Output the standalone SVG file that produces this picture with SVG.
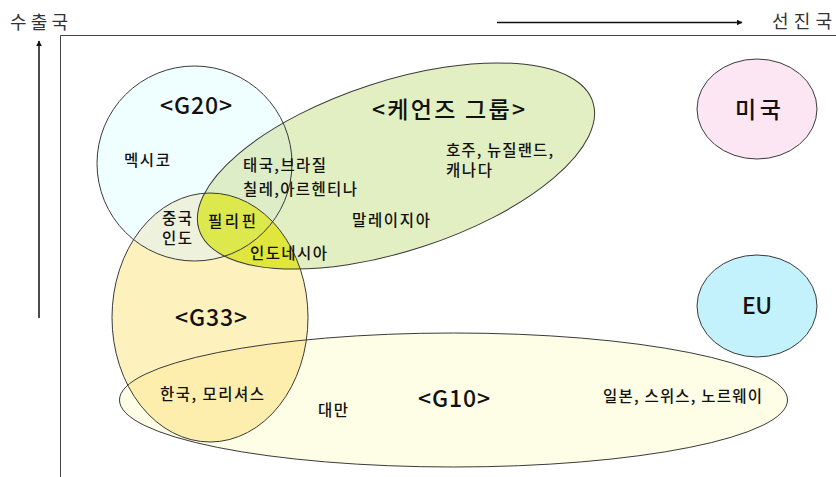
<svg xmlns="http://www.w3.org/2000/svg" xmlns:xlink="http://www.w3.org/1999/xlink" width="836" height="477" viewBox="0 0 836 477">
<style>
.t{font-family:"Noto Sans CJK KR","Liberation Sans",sans-serif;fill:#111;}
.s{font-size:15.5px;font-weight:500;}
.h{font-size:23px;font-weight:500;}
.ax{font-size:18px;fill:#333;}
.o{fill:none;stroke:#3a3a3a;stroke-width:1;}
.axis{stroke:#111;stroke-width:1.5;fill:none;}
.frame{stroke:#444;stroke-width:1;fill:none;}
</style>
<defs>
<marker id="arr" viewBox="0 0 10 10" refX="9" refY="5" markerWidth="6" markerHeight="6" orient="auto" markerUnits="userSpaceOnUse">
<path d="M0,0 L10,5 L0,10 z" fill="#111"/>
</marker>
<ellipse id="e-g20" cx="194.5" cy="163.5" rx="97.5" ry="97.5"/>
<ellipse id="e-cairns" cx="396" cy="166" rx="207" ry="85" transform="rotate(-18 396 166)"/>
<ellipse id="e-g33" cx="210" cy="317.5" rx="98" ry="124.5"/>
<ellipse id="e-g10" cx="453.5" cy="400" rx="334" ry="67"/>
<clipPath id="c-g20"><use xlink:href="#e-g20"/></clipPath>
<clipPath id="c-cairns"><use xlink:href="#e-cairns"/></clipPath>
<clipPath id="c-g33"><use xlink:href="#e-g33"/></clipPath>
</defs>
<rect width="836" height="477" fill="#fff"/>
<g id="frame">
<path class="frame" d="M60.5,477 V35.5 H836"/>
</g>
<g id="fills">
<use xlink:href="#e-g10" fill="#fefee6"/>
<use xlink:href="#e-g33" fill="#fdf1bd"/>
<use xlink:href="#e-g20" fill="#effeff"/>
<use xlink:href="#e-cairns" fill="#e2efc2"/>
</g>
<g id="overlaps">
<g clip-path="url(#c-g20)"><use xlink:href="#e-cairns" fill="#dcedc8"/></g>
<g clip-path="url(#c-g20)"><use xlink:href="#e-g33" fill="#eef2dc"/></g>
<g clip-path="url(#c-cairns)"><use xlink:href="#e-g33" fill="#e1e63c"/></g>
<g clip-path="url(#c-g20)"><g clip-path="url(#c-cairns)"><use xlink:href="#e-g33" fill="#dce84c"/></g></g>
<g clip-path="url(#c-g33)"><use xlink:href="#e-g10" fill="#fdeeae"/></g>
</g>
<g id="connectors">
<line class="axis" x1="39" y1="318" x2="39" y2="41" marker-end="url(#arr)"/>
<line class="axis" x1="497" y1="22.5" x2="742" y2="22.5" marker-end="url(#arr)"/>
</g>
<g id="axis-labels">
<text class="t ax" x="10" y="29" textLength="58">수출국</text>
<text class="t ax" x="772" y="28" textLength="60">선진국</text>
</g>
<g id="g10">
<use xlink:href="#e-g10" class="o"/>
<text class="t h" x="418" y="407" textLength="72">&lt;G10&gt;</text>
<text class="t s" x="318" y="416" textLength="30">대만</text>
<text class="t s" x="603" y="402" textLength="159">일본, 스위스, 노르웨이</text>
</g>
<g id="g33">
<use xlink:href="#e-g33" class="o"/>
<text class="t h" x="175" y="326" textLength="72">&lt;G33&gt;</text>
<text class="t s" x="160" y="400" textLength="104">한국, 모리셔스</text>
</g>
<g id="g20">
<use xlink:href="#e-g20" class="o"/>
<text class="t h" x="160" y="114" textLength="72">&lt;G20&gt;</text>
<text class="t s" x="124" y="166" textLength="46">멕시코</text>
<text class="t s" x="162" y="224" textLength="30">중국</text>
<text class="t s" x="162" y="244" textLength="30">인도</text>
</g>
<g id="cairns">
<use xlink:href="#e-cairns" class="o"/>
<text class="t h" x="372" y="118" textLength="153" font-weight="bold">&lt;케언즈 그룹&gt;</text>
<text class="t s" x="446" y="156" textLength="107">호주, 뉴질랜드,</text>
<text class="t s" x="446" y="176" textLength="46">캐나다</text>
<text class="t s" x="243" y="171" textLength="83">태국,브라질</text>
<text class="t s" x="243" y="195" textLength="114">칠레,아르헨티나</text>
<text class="t s" x="352" y="226" textLength="78">말레이지아</text>
<text class="t s" x="208" y="227" textLength="48">필리핀</text>
<text class="t s" x="250" y="259" textLength="77">인도네시아</text>
</g>
<g id="usa">
<ellipse cx="757" cy="109" rx="60" ry="50" class="o" style="fill:#fde6f3"/>
<text class="t h" x="735" y="118" textLength="46">미국</text>
</g>
<g id="eu">
<ellipse cx="757" cy="306" rx="60" ry="51" class="o" style="fill:#c4f2fc"/>
<text class="t h" x="742" y="314" textLength="30">EU</text>
</g>
</svg>
